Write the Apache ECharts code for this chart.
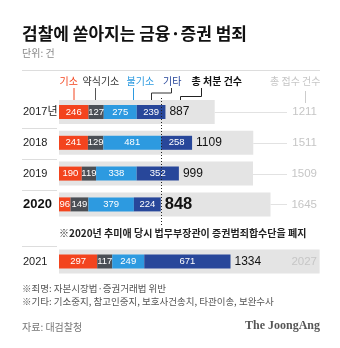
<!DOCTYPE html>
<html>
<head>
<meta charset="utf-8">
<script src="https://cdn.jsdelivr.net/npm/echarts@6/dist/echarts.min.js"></script>
<style>
html, body { margin: 0; padding: 0; background: #fff; }
#chart { width: 340px; height: 348px; }
</style>
</head>
<body>
<div id="chart"></div>
<script>
var years = ['2017', '2018', '2019', '2020', '2021'];
var yearLabels = ['2017년', '2018', '2019', '2020', '2021'];
var indicted = [246, 241, 190, 96, 297];     // 기소
var summary = [127, 129, 119, 149, 117];     // 약식기소
var dropped = [275, 481, 338, 379, 249];     // 불기소
var others = [239, 258, 352, 224, 671];      // 기타
var disposed = [887, 1109, 999, 848, 1334];  // 총 처분 건수
var received = [1211, 1511, 1509, 1645, 2027]; // 총 접수 건수

var segNames = ['기소', '약식기소', '불기소', '기타'];
var segData = [indicted, summary, dropped, others];
var segColors = ['#f3441e', '#4b4f55', '#2d9ae0', '#28479a'];

var numFont = "'Liberation Sans', Arial, sans-serif";
var krFont = "'Noto Sans CJK KR', sans-serif";

var chart = echarts.init(document.getElementById('chart'), null, { renderer: 'canvas' });

// rows 0-3 go in grid 0, row 4 (2021) in grid 1
function rowSeries(from, to, xGrey, xSeg, yGrey, ySeg, stackName) {
    var list = [];
    list.push({
        type: 'bar',
        xAxisIndex: xGrey,
        yAxisIndex: yGrey,
        data: received.slice(from, to),
        barWidth: 24,
        itemStyle: { color: '#e4e4e4' },
        silent: true
    });
    for (var i = 0; i < 4; i++) {
        list.push({
            name: segNames[i],
            type: 'bar',
            stack: stackName,
            xAxisIndex: xSeg,
            yAxisIndex: ySeg,
            data: segData[i].slice(from, to),
            barWidth: 14,
            barGap: '-100%',
            itemStyle: { color: segColors[i] },
            label: {
                show: true,
                position: 'inside',
                color: '#fff',
                fontSize: 9.5,
                fontFamily: numFont
            },
            silent: true
        });
    }
    var totals = disposed.slice(from, to).map(function (v, k) {
        var item = { value: v };
        if (years[from + k] === '2020') {
            item.label = { fontSize: 16.5, fontWeight: 'bold' };
        }
        return item;
    });
    list.push({
        type: 'bar',
        xAxisIndex: xSeg,
        yAxisIndex: ySeg,
        data: totals,
        barWidth: 14,
        barGap: '-100%',
        itemStyle: { color: 'rgba(0,0,0,0)' },
        label: {
            show: true,
            position: 'right',
            distance: 4,
            color: '#111',
            fontSize: 12,
            fontFamily: numFont
        },
        silent: true
    });
    return list;
}

var yearLabel = {
    align: 'left',
    margin: 36,
    color: '#222',
    fontSize: 11,
    fontFamily: "'Liberation Sans', 'Noto Sans CJK KR', sans-serif",
    formatter: function (v) {
        return v === '2020' ? '{b|' + v + '}' : v;
    },
    rich: {
        b: { fontSize: 13, fontWeight: 'bold', fontFamily: numFont, color: '#111' }
    }
};
var recvLabel = {
    inside: true,
    margin: 12,
    color: '#c6c6c6',
    fontSize: 11.5,
    fontFamily: numFont
};
var hideAxis = { axisLine: { show: false }, axisTick: { show: false }, z: 10 };

var option = {
    animation: false,
    grid: [
        { left: 59, right: 11, top: 96.6, height: 123.2 },
        { left: 59, right: 11, top: 246, height: 31 }
    ],
    xAxis: [
        { type: 'value', gridIndex: 0, min: 0, max: 2100, show: false },
        { type: 'value', gridIndex: 0, min: 0, max: 2250, show: false },
        { type: 'value', gridIndex: 1, min: 0, max: 2100, show: false }
    ],
    yAxis: [
        Object.assign({ type: 'category', gridIndex: 0, inverse: true, data: yearLabels.slice(0, 4), axisLabel: yearLabel }, hideAxis),
        { type: 'category', gridIndex: 0, inverse: true, data: years.slice(0, 4), show: false },
        Object.assign({ type: 'category', gridIndex: 0, inverse: true, position: 'right', data: received.slice(0, 4).map(String), axisLabel: recvLabel }, hideAxis),
        Object.assign({ type: 'category', gridIndex: 1, inverse: true, data: yearLabels.slice(4), axisLabel: yearLabel }, hideAxis),
        { type: 'category', gridIndex: 1, inverse: true, data: years.slice(4), show: false },
        Object.assign({ type: 'category', gridIndex: 1, inverse: true, position: 'right', data: received.slice(4).map(String), axisLabel: recvLabel }, hideAxis)
    ],
    series: rowSeries(0, 4, 0, 1, 0, 1, 'a').concat(rowSeries(4, 5, 2, 2, 3, 4, 'b')),
    graphic: [
        { type: 'text', left: 22, top: 25, style: { text: '검찰에 쏟아지는 금융·증권 범죄', fill: '#111', font: 'bold 17px ' + krFont } },
        { type: 'text', left: 22, top: 48, style: { text: '단위: 건', fill: '#888', font: '10px ' + krFont } },
        { type: 'line', shape: { x1: 22, y1: 70.5, x2: 320, y2: 70.5 }, style: { stroke: '#ddd', lineWidth: 1 } },

        // legend labels and leaders
        { type: 'text', left: 59.5, top: 76, style: { text: '기소', fill: segColors[0], font: '10px ' + krFont } },
        { type: 'text', left: 82.5, top: 76, style: { text: '약식기소', fill: '#333', font: '10px ' + krFont } },
        { type: 'text', left: 126.5, top: 76, style: { text: '불기소', fill: segColors[2], font: '10px ' + krFont } },
        { type: 'text', left: 163, top: 76, style: { text: '기타', fill: segColors[3], font: '10px ' + krFont } },
        { type: 'text', left: 191.5, top: 76, style: { text: '총 처분 건수', fill: '#111', font: 'bold 10px ' + krFont } },
        { type: 'text', left: 270, top: 76, style: { text: '총 접수 건수', fill: '#c6c6c6', font: '10px ' + krFont } },
        { type: 'line', shape: { x1: 74, y1: 88, x2: 74, y2: 105 }, style: { stroke: segColors[0], lineWidth: 1 } },
        { type: 'line', shape: { x1: 95.5, y1: 88, x2: 95.5, y2: 105 }, style: { stroke: '#555', lineWidth: 1 } },
        { type: 'line', shape: { x1: 133.5, y1: 88, x2: 133.5, y2: 105 }, style: { stroke: segColors[2], lineWidth: 1 } },
        { type: 'polyline', shape: { points: [[171.5, 88], [171.5, 93], [151.5, 93], [151.5, 105]] }, style: { stroke: '#333', lineWidth: 1, fill: null } },
        { type: 'polyline', shape: { points: [[201.5, 88], [201.5, 96.5], [180.5, 96.5], [180.5, 103]] }, style: { stroke: '#222', lineWidth: 1, fill: null } },
        { type: 'line', shape: { x1: 305.5, y1: 91, x2: 305.5, y2: 103 }, style: { stroke: '#ccc', lineWidth: 1 } },

        // row separators
        { type: 'line', shape: { x1: 22, y1: 128.5, x2: 57, y2: 128.5 }, style: { stroke: '#ddd', lineWidth: 1 } },
        { type: 'line', shape: { x1: 22, y1: 159.5, x2: 57, y2: 159.5 }, style: { stroke: '#ddd', lineWidth: 1 } },
        { type: 'line', shape: { x1: 22, y1: 190.5, x2: 57, y2: 190.5 }, style: { stroke: '#ddd', lineWidth: 1 } },
        { type: 'line', shape: { x1: 22, y1: 246.5, x2: 57, y2: 246.5 }, style: { stroke: '#ddd', lineWidth: 1 } },

        { type: 'text', left: 59, top: 228, style: { text: '※2020년 추미애 당시 법무부장관이 증권범죄합수단을 폐지', fill: '#222', font: 'bold 10px ' + krFont } },
        { type: 'text', left: 22, top: 284, style: { text: '※죄명: 자본시장법·증권거래법 위반', fill: '#555', font: '9.5px ' + krFont } },
        { type: 'text', left: 22, top: 297, style: { text: '※기타: 기소중지, 참고인중지, 보호사건송치, 타관이송, 보완수사', fill: '#555', font: '9.5px ' + krFont } },
        { type: 'text', left: 22, top: 322, style: { text: '자료: 대검찰청', fill: '#777', font: '10px ' + krFont } },
        { type: 'text', right: 20, top: 320, style: { text: 'The JoongAng', fill: '#555', font: "bold 12px 'Liberation Serif', 'DejaVu Serif', serif" } }
    ]
};
chart.setOption(option);

// leader lines from grey bar ends to the received totals, and the 2020 marker
var extra = [];
for (var i = 0; i < 4; i++) {
    var end = chart.convertToPixel({ xAxisIndex: 0 }, received[i]);
    var y = chart.convertToPixel({ yAxisIndex: 0 }, yearLabels[i]);
    extra.push({ type: 'line', shape: { x1: end, y1: Math.round(y) + 0.5, x2: 287, y2: Math.round(y) + 0.5 }, style: { stroke: '#e2e2e2', lineWidth: 1 } });
}
var x2020 = Math.round(chart.convertToPixel({ xAxisIndex: 1 }, disposed[3])) + 0.5;
extra.push({ type: 'line', z: 100, shape: { x1: x2020, y1: 98, x2: x2020, y2: 226 }, style: { stroke: '#222', lineWidth: 1, lineDash: [1, 2] } });
chart.setOption({ graphic: option.graphic.concat(extra) });
</script>
</body>
</html>
